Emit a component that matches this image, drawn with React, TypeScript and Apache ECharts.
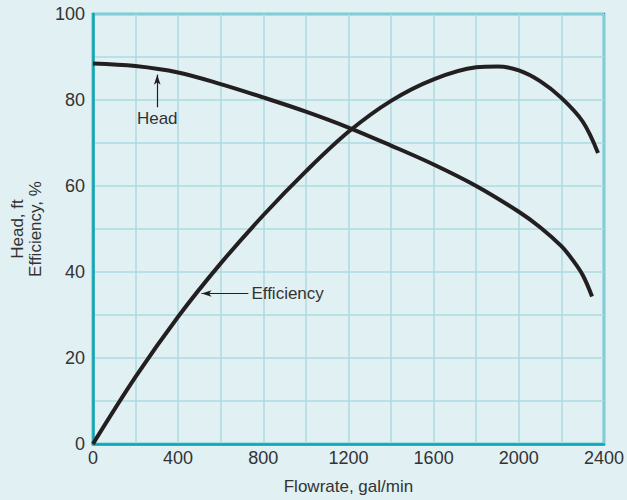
import React, { useEffect, useRef } from "react";
import * as echarts from "echarts";

const flowrate = [0, 200, 400, 600, 800, 1000, 1200, 1400, 1600, 1800, 2000, 2100, 2200, 2250, 2300, 2344];
const head = [88.5, 87.9, 86.4, 83.7, 80.6, 77.3, 73.6, 69.4, 65.0, 60.0, 54.0, 50.4, 46.0, 43.0, 39.3, 34.3];

const effFlow = [0, 200, 400, 600, 800, 1000, 1200, 1400, 1600, 1800, 1900, 2000, 2100, 2200, 2300, 2372];
const efficiency = [0, 15.6, 29.6, 42.0, 53.2, 63.4, 72.6, 79.8, 84.8, 87.6, 87.8, 86.9, 84.4, 80.5, 75.0, 67.7];

const xTicks = [0, 400, 800, 1200, 1600, 2000, 2400];
const yTicks = [0, 20, 40, 60, 80, 100];

const headArrow = { from: [302, 78.3], to: [302, 85.9], text: "Head" };
const effArrow = { from: [730, 35], to: [510, 35], text: "Efficiency" };

const BG = "#e1f0f3";
const TEAL = "#0ca3b3";
const GRIDC = "#aadbe1";
const INK = "#231f20";
const TXT = "#333333";
const FONT = "Liberation Sans, Arial, sans-serif";

export default function App() {
  const ref = useRef<HTMLDivElement>(null);
  useEffect(() => {
    document.body.style.margin = "0";
    const chart = echarts.init(ref.current!, null, { renderer: "svg" });
    const zip = (xs: number[], ys: number[]) => xs.map((x, i) => [x, ys[i]]);
    const arrowLine = (a: { from: number[]; to: number[]; text: string }, pos: string) => ({
      silent: true,
      symbol: ["none", "arrow"],
      symbolSize: [5, 10],
      lineStyle: { color: INK, width: 1.2, type: "solid" },
      label: {
        show: true,
        position: pos,
        formatter: a.text,
        color: TXT,
        fontSize: 17,
        fontFamily: FONT,
        distance: 3,
      },
      data: [[{ coord: a.from }, { coord: a.to }]],
    });
    chart.setOption({
      animation: false,
      backgroundColor: BG,
      textStyle: { fontFamily: FONT },
      grid: {
        left: 91,
        right: 20,
        top: 14,
        bottom: 53,
        show: true,
        borderColor: TEAL,
        borderWidth: 2.5,
        backgroundColor: "transparent",
      },
      xAxis: {
        type: "value",
        min: 0,
        max: 2400,
        interval: 200,
        axisLine: { lineStyle: { color: TEAL, width: 2.5 } },
        axisTick: { show: false },
        splitLine: { lineStyle: { color: GRIDC, width: 1.5 } },
        axisLabel: {
          color: TXT,
          fontSize: 18,
          fontFamily: FONT,
          margin: 5,
          formatter: (v: number) => (xTicks.includes(v) ? String(v) : ""),
        },
        name: "Flowrate, gal/min",
        nameLocation: "middle",
        nameGap: 34,
        nameTextStyle: { color: TXT, fontSize: 17, fontFamily: FONT },
      },
      yAxis: {
        type: "value",
        min: 0,
        max: 100,
        interval: 10,
        axisLine: { show: true, lineStyle: { color: TEAL, width: 2.5 } },
        axisTick: { show: false },
        splitLine: { lineStyle: { color: GRIDC, width: 1.5 } },
        axisLabel: {
          color: TXT,
          fontSize: 18,
          fontFamily: FONT,
          margin: 8,
          formatter: (v: number) => (yTicks.includes(v) ? String(v) : ""),
        },
        name: "Head, ft\nEfficiency, %",
        nameLocation: "middle",
        nameGap: 35,
        nameTextStyle: { color: TXT, fontSize: 17, fontFamily: FONT, lineHeight: 18 },
      },
      series: [
        {
          name: "Head",
          type: "line",
          data: zip(flowrate, head),
          smooth: 0.35,
          showSymbol: false,
          lineStyle: { color: INK, width: 4 },
          markLine: arrowLine(headArrow, "start"),
        },
        {
          name: "Efficiency",
          type: "line",
          data: zip(effFlow, efficiency),
          smooth: 0.35,
          showSymbol: false,
          lineStyle: { color: INK, width: 4 },
          markLine: arrowLine(effArrow, "start"),
        },
      ],
    });
    return () => chart.dispose();
  }, []);
  return <div ref={ref} style={{ width: 627, height: 500 }} />;
}
